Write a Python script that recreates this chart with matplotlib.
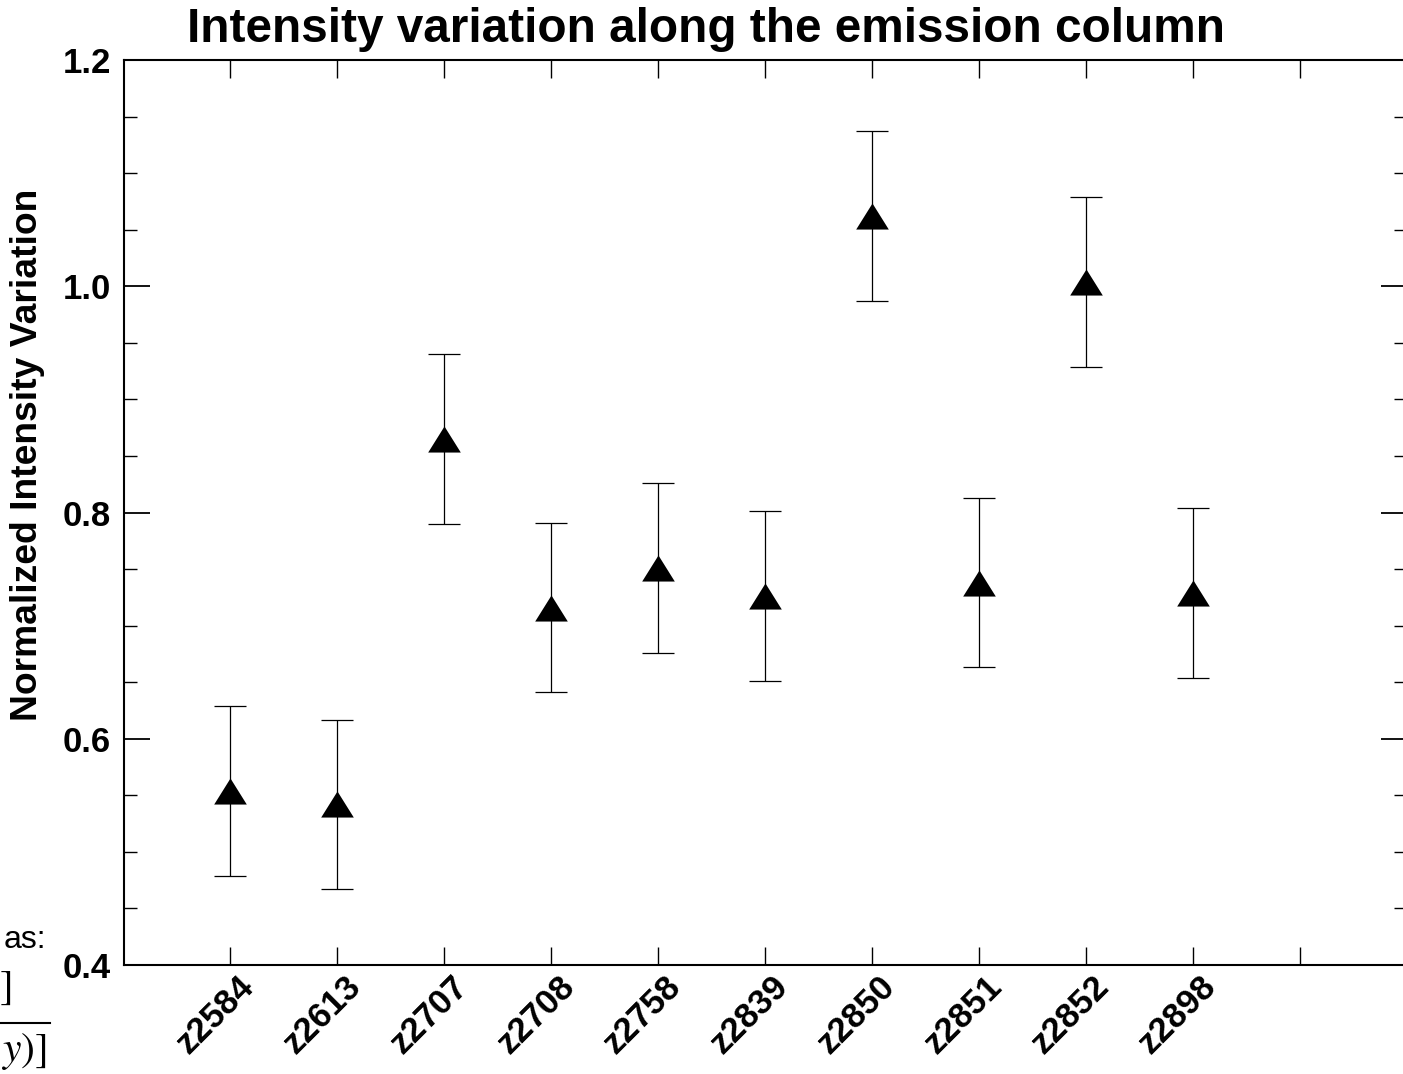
import matplotlib
matplotlib.use('Agg')
import matplotlib.pyplot as plt
from matplotlib.lines import Line2D
from matplotlib.ticker import MultipleLocator, FixedLocator
from matplotlib.transforms import ScaledTranslation

# --- DATA ---
samples = ['z2584', 'z2613', 'z2707', 'z2708', 'z2758',
           'z2839', 'z2850', 'z2851', 'z2852', 'z2898']
intensity = [0.554, 0.542, 0.865, 0.716, 0.751, 0.726, 1.062, 0.738, 1.004, 0.729]
errors = [0.075, 0.075, 0.075, 0.075, 0.075, 0.075, 0.075, 0.075, 0.075, 0.075]

W, H = 1403, 1074
plt.rcParams['font.family'] = ['Liberation Sans', 'DejaVu Sans']
plt.rcParams['mathtext.fontset'] = 'stix'

fig = plt.figure(figsize=(W / 100, H / 100), dpi=100)
ax = fig.add_axes([123.5 / W, (H - 965) / H, (1407 - 123.5) / W, (965 - 60) / H])

xpos = list(range(1, len(samples) + 1))
tri = [(0, 0.8), (-1, -0.8), (1, -0.8)]
ax.errorbar(xpos, intensity, yerr=errors, fmt='none', ecolor='black',
            elinewidth=0.9, capsize=11.5, capthick=0.9)
ax.plot(xpos, intensity, linestyle='none', marker=tri, markersize=23.5,
        color='black', markeredgewidth=0)

ax.set_xlim(0, 12)
ax.set_ylim(0.4, 1.2)
ax.xaxis.set_major_locator(FixedLocator(xpos + [11]))
ax.set_xticklabels(samples + [''])
ax.yaxis.set_major_locator(MultipleLocator(0.2))
ax.yaxis.set_minor_locator(MultipleLocator(0.05))

for s in ax.spines.values():
    s.set_linewidth(1.5)
ax.tick_params(axis='y', which='major', direction='in', length=19, width=1.3,
               left=True, right=True, labelsize=25, pad=9)
ax.tick_params(axis='y', which='minor', direction='in', length=9.5, width=1.0,
               left=True, right=True)
ax.tick_params(axis='x', which='major', direction='in', length=13, width=1.0,
               bottom=True, top=True, labelsize=25, pad=4)
for lab in ax.get_yticklabels():
    lab.set_fontweight('bold')
shift = ScaledTranslation(18 / 100, -11 / 100, fig.dpi_scale_trans)
for lab in ax.get_xticklabels():
    lab.set_fontweight('bold')
    lab.set_rotation(45)
    lab.set_ha('right')
    lab.set_va('center')
    lab.set_rotation_mode('anchor')
    lab.set_transform(lab.get_transform() + shift)

fig.text(28 / W, 1 - 455 / H, 'Normalized Intensity Variation', rotation=90,
         ha='center', va='center', fontsize=26.8, fontweight='bold')
fig.text(706 / W, 1 - 42 / H, 'Intensity variation along the emission column',
         ha='center', va='baseline', fontsize=34.4, fontweight='bold')

# leftover text at the bottom-left edge
fig.text(46 / W, 1 - 940 / H, 'as:', ha='right', va='center', fontsize=23)
fig.text(0, 1 - 988 / H, ']', ha='left', va='center', fontsize=30,
         family='STIXGeneral')
fig.text(46 / W, 1 - 1052 / H, r'$y)]$', ha='right', va='center', fontsize=30)
fig.add_artist(Line2D([0, 50 / W], [1 - 1023 / H, 1 - 1023 / H],
                      transform=fig.transFigure, color='black', linewidth=1.5))

fig.savefig('out.png', dpi=100)
